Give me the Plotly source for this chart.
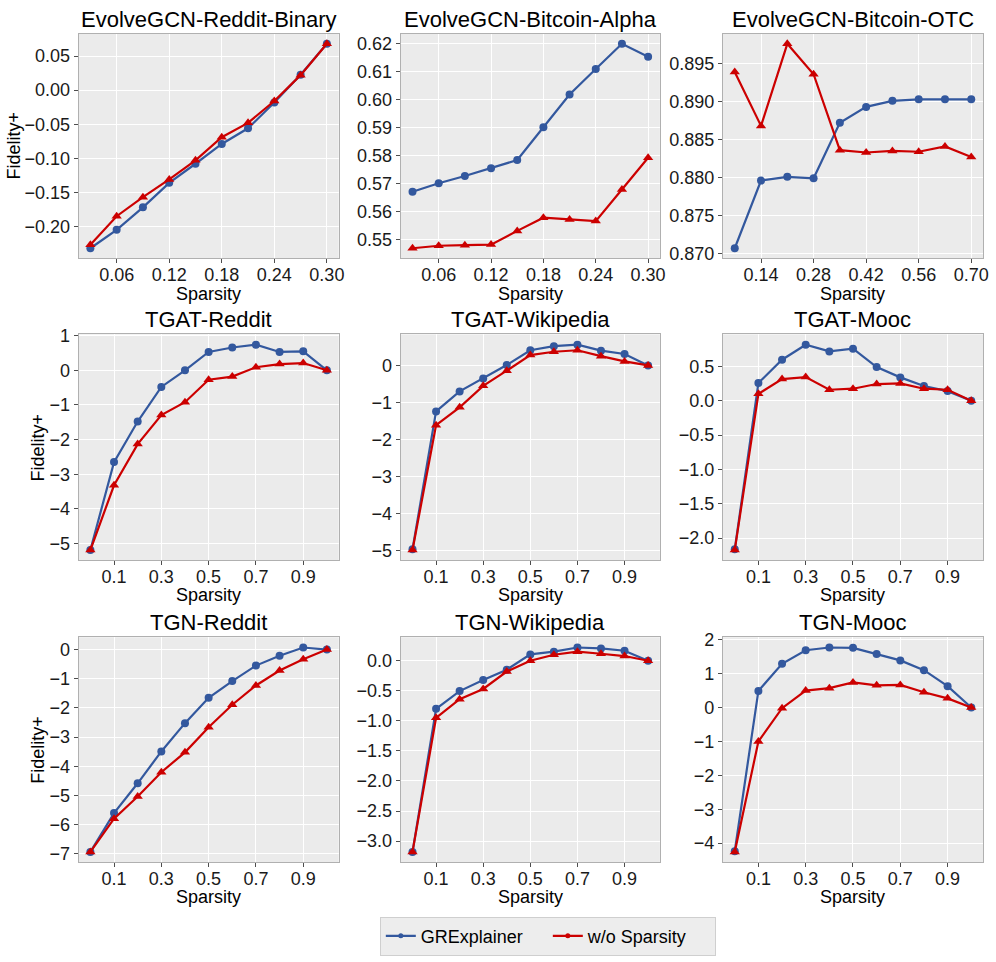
import plotly.graph_objects as go

W, H = 996, 962

# ---------------- data ----------------
titles = ["EvolveGCN-Reddit-Binary", "EvolveGCN-Bitcoin-Alpha", "EvolveGCN-Bitcoin-OTC",
          "TGAT-Reddit", "TGAT-Wikipedia", "TGAT-Mooc",
          "TGN-Reddit", "TGN-Wikipedia", "TGN-Mooc"]
x_label = "Sparsity"
y_label = "Fidelity+"

x_evolve = [0.03, 0.06, 0.09, 0.12, 0.15, 0.18, 0.21, 0.24, 0.27, 0.30]
x_otc = [0.07, 0.14, 0.21, 0.28, 0.35, 0.42, 0.49, 0.56, 0.63, 0.70]
x_tg = [0.0, 0.1, 0.2, 0.3, 0.4, 0.5, 0.6, 0.7, 0.8, 0.9, 1.0]

grex_reddit_binary = [-0.232, -0.205, -0.172, -0.136, -0.108, -0.079, -0.056, -0.018, 0.0225, 0.068]
wo_reddit_binary = [-0.227, -0.185, -0.157, -0.131, -0.103, -0.069, -0.048, -0.016, 0.022, 0.068]

grex_alpha = [0.5670, 0.5700, 0.5726, 0.5754, 0.5783, 0.5900, 0.6017, 0.6108, 0.6198, 0.6152]
wo_alpha = [0.5468, 0.5477, 0.5479, 0.5481, 0.5530, 0.5577, 0.5571, 0.5565, 0.5678, 0.5791]

grex_otc = [0.8707, 0.8796, 0.8801, 0.8799, 0.8872, 0.8893, 0.8901, 0.8903, 0.8903, 0.8903]
wo_otc = [0.8939, 0.8868, 0.8976, 0.8936, 0.8836, 0.8833, 0.8835, 0.8834, 0.8841, 0.8827]

grex_tgat_reddit = [-5.19, -2.65, -1.48, -0.48, 0.0, 0.53, 0.66, 0.74, 0.53, 0.55, 0.0]
wo_tgat_reddit = [-5.19, -3.32, -2.13, -1.29, -0.92, -0.27, -0.18, 0.09, 0.18, 0.21, 0.0]

grex_tgat_wiki = [-4.96, -1.24, -0.70, -0.35, 0.01, 0.41, 0.52, 0.56, 0.40, 0.31, 0.0]
wo_tgat_wiki = [-4.98, -1.61, -1.13, -0.55, -0.14, 0.28, 0.37, 0.41, 0.25, 0.11, 0.0]

grex_tgat_mooc = [-2.165, 0.257, 0.597, 0.816, 0.718, 0.757, 0.49, 0.34, 0.214, 0.14, 0.0]
wo_tgat_mooc = [-2.175, 0.10, 0.315, 0.345, 0.16, 0.175, 0.243, 0.252, 0.175, 0.16, 0.0]

grex_tgn_reddit = [-6.93, -5.60, -4.58, -3.49, -2.52, -1.65, -1.08, -0.55, -0.21, 0.07, 0.0]
wo_tgn_reddit = [-6.93, -5.79, -5.03, -4.20, -3.52, -2.66, -1.89, -1.23, -0.72, -0.33, 0.0]

grex_tgn_wiki = [-3.18, -0.80, -0.505, -0.32, -0.15, 0.105, 0.15, 0.22, 0.205, 0.166, 0.0]
wo_tgn_wiki = [-3.18, -0.95, -0.64, -0.47, -0.18, 0.0, 0.10, 0.15, 0.116, 0.078, 0.0]

grex_tgn_mooc = [-4.24, 0.49, 1.29, 1.69, 1.77, 1.76, 1.575, 1.39, 1.10, 0.63, 0.0]
wo_tgn_mooc = [-4.26, -1.0, -0.02, 0.50, 0.57, 0.74, 0.655, 0.665, 0.45, 0.27, 0.0]

series_names = ["GRExplainer", "w/o Sparsity"]

panels = [
    (x_evolve, grex_reddit_binary, wo_reddit_binary),
    (x_evolve, grex_alpha, wo_alpha),
    (x_otc, grex_otc, wo_otc),
    (x_tg, grex_tgat_reddit, wo_tgat_reddit),
    (x_tg, grex_tgat_wiki, wo_tgat_wiki),
    (x_tg, grex_tgat_mooc, wo_tgat_mooc),
    (x_tg, grex_tgn_reddit, wo_tgn_reddit),
    (x_tg, grex_tgn_wiki, wo_tgn_wiki),
    (x_tg, grex_tgn_mooc, wo_tgn_mooc),
]

tick_cfg = [
    (0.0, 0.06, ".2f", 0.05, ".2f"),
    (0.0, 0.06, ".2f", 0.01, ".2f"),
    (0.0, 0.14, ".2f", 0.005, ".3f"),
    (0.1, 0.2, ".1f", 1, "d"),
    (0.1, 0.2, ".1f", 1, "d"),
    (0.1, 0.2, ".1f", 0.5, ".1f"),
    (0.1, 0.2, ".1f", 1, "d"),
    (0.1, 0.2, ".1f", 0.5, ".1f"),
    (0.1, 0.2, ".1f", 1, "d"),
]

# target positions in screenshot pixels
col_px = [(79, 339), (401, 660), (723, 983)]
row_px = [(33, 258), (334, 560), (637, 862)]
xlab_px = [294, 595, 897]
ylab_px = [15, 38.5, 38.5]


def py(y):
    """screenshot pixel row -> paper fraction (compensates the page offset/scale seen)."""
    return 1 - ((y - 7.4) / 0.987) / H


def px(x):
    """screenshot pixel column -> paper fraction."""
    return ((x - 0.5) / 0.9934) / W


BLUE = "#33589E"
RED = "#CC0000"
FONT = "Liberation Sans, Arial, Helvetica, sans-serif"

fig = go.Figure()
layout = dict(
    width=W, height=H,
    margin=dict(l=0, r=0, t=0, b=0),
    paper_bgcolor="white",
    plot_bgcolor="#EBEBEB",
    font=dict(family=FONT, size=18, color="black"),
    showlegend=True,
    legend=dict(orientation="h", x=px(548), xanchor="center", y=py(936), yanchor="middle",
                bgcolor="#EDEDED", bordercolor="#CFCFCF", borderwidth=1,
                font=dict(size=18), itemwidth=30, entrywidth=122, entrywidthmode="pixels",
                tracegroupgap=0),
    annotations=[],
)


def expand(vals, frac=0.05):
    lo, hi = min(vals), max(vals)
    pad = (hi - lo) * frac
    return [lo - pad, hi + pad]


for i, (xs, g, w) in enumerate(panels):
    r, c = divmod(i, 3)
    n = i + 1
    xa = "x" if n == 1 else f"x{n}"
    ya = "y" if n == 1 else f"y{n}"
    (x0, x1), (y0, y1) = col_px[c], row_px[r]
    t0, dt, xf, ydt, yf = tick_cfg[i]
    common = dict(showgrid=True, gridcolor="white", gridwidth=1.3, zeroline=False,
                  showline=True, linecolor="#B0B0B0", linewidth=1, mirror=True,
                  ticks="outside", ticklen=4, tickcolor="#4D4D4D", tickwidth=1,
                  tickfont=dict(size=18, color="#1A1A1A"))
    layout["xaxis" if n == 1 else f"xaxis{n}"] = dict(
        domain=[px(x0), px(x1)], anchor=ya, range=expand(xs),
        tick0=t0, dtick=dt, tickformat=xf, ticklabelstandoff=-4, **common)
    layout["yaxis" if n == 1 else f"yaxis{n}"] = dict(
        domain=[py(y1), py(y0)], anchor=xa, range=expand(g + w),
        dtick=ydt, tick0=0, tickformat=yf, **common)

    fig.add_trace(go.Scatter(x=xs, y=g, mode="lines+markers", xaxis=xa, yaxis=ya,
                             line=dict(color=BLUE, width=2.2),
                             marker=dict(symbol="circle", size=8, color=BLUE),
                             name=series_names[0], showlegend=False))
    fig.add_trace(go.Scatter(x=xs, y=w, mode="lines+markers", xaxis=xa, yaxis=ya,
                             line=dict(color=RED, width=2.2),
                             marker=dict(symbol="triangle-up", size=9, color=RED),
                             name=series_names[1], showlegend=False))

    layout["annotations"].append(dict(
        text=titles[i], xref="paper", yref="paper",
        x=px((x0 + x1) / 2), y=py(y0), xanchor="center", yanchor="bottom",
        showarrow=False, font=dict(size=22, color="black")))
    layout["annotations"].append(dict(
        text=x_label, xref="paper", yref="paper",
        x=px((x0 + x1) / 2), y=py(xlab_px[r]), xanchor="center", yanchor="middle",
        showarrow=False, font=dict(size=18, color="black")))
    if c == 0:
        layout["annotations"].append(dict(
            text=y_label, xref="paper", yref="paper", textangle=-90,
            x=px(ylab_px[r]), y=py((y0 + y1) / 2), xanchor="center", yanchor="middle",
            showarrow=False, font=dict(size=18, color="black")))

for name, col in zip(series_names, [BLUE, RED]):
    fig.add_trace(go.Scatter(x=[None], y=[None], mode="lines+markers", name=name,
                             line=dict(color=col, width=2.2),
                             marker=dict(symbol="circle", size=5, color=col),
                             showlegend=True, xaxis="x", yaxis="y"))

fig.update_layout(**layout)
fig.write_html("out.html", config={"displayModeBar": False},
               post_script="document.body.style.margin='0';document.body.style.overflow='hidden';")
